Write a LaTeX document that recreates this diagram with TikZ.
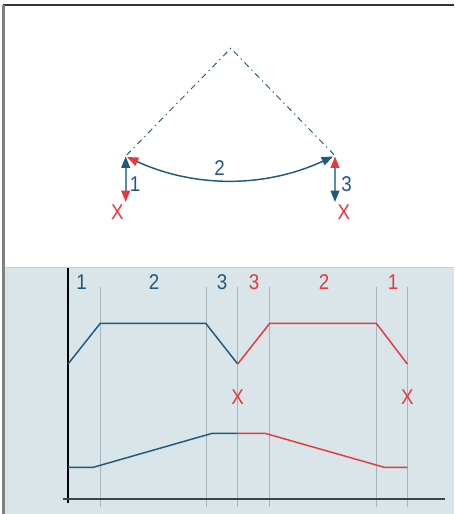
\documentclass[tikz,border=0pt]{standalone}
\usepackage{fontspec}
\setmainfont{Liberation Sans}[FakeStretch=0.88]
\usetikzlibrary{arrows.meta}
\definecolor{dblue}{HTML}{1F5A7E}
\definecolor{mblue}{HTML}{5E8BA8}
\definecolor{dred}{HTML}{E8383F}
\definecolor{panel}{HTML}{D9E5E8}
\definecolor{grid}{HTML}{A8B4BC}
\definecolor{axisc}{HTML}{3D4547}
\tikzset{
  lbl/.style={font=\fontsize{16}{19}\selectfont, inner sep=0pt, anchor=center},
  bl/.style={lbl, text=dblue},
  rd/.style={lbl, text=dred},
  curve/.style={line width=1.1pt, line join=round},
  gridline/.style={grid, line width=0.9pt}
}
\begin{document}
\begin{tikzpicture}[x=0.75pt, y=-0.75pt]
\useasboundingbox (0,0) rectangle (454,514);
% frame
\fill[panel] (5,268) rectangle (454,514);
\draw[black!20, line width=0.6pt] (5,267.5) -- (454,267.5);
\draw[black!80, line width=1.3pt] (3,5) -- (454,5);
\draw[black!50, line width=1.6pt] (3.5,4.5) -- (3.5,514);
% top part
\coordinate (A) at (230.7,48.3);
\coordinate (L) at (126.7,155);
\coordinate (R) at (334.3,155);
\draw[dblue, line width=0.7pt, dash pattern=on 4.5 off 3 on 1 off 3] (L) -- (A) -- (R);
\coordinate (LT) at (125.7,156.5);
\coordinate (LB) at (125.7,202);
\coordinate (RT) at (335,156.5);
\coordinate (RB) at (335,202);
\draw[mblue, line width=1.3pt, {Triangle[length=8.5, width=6.5, color=dblue]}-{Triangle[length=8.5, width=6.5, color=dred]}] (LT) -- (LB);
\draw[mblue, line width=1.3pt, {Triangle[length=8.5, width=6.5, color=dred]}-{Triangle[length=8.5, width=6.5, color=dblue]}] (RT) -- (RB);
\coordinate (AL) at (127,157);
\coordinate (AR) at (333,156.5);
\draw[dblue, line width=1.1pt, {Triangle[length=8.5, width=6.5, color=dred]}-{Triangle[length=8.5, width=6.5, color=dblue]}] (AL) .. controls (195,188) and (265,188) .. (AR);
\node[bl] (n2t) at (219.5,168.5) {2};
\node[bl] (n1t) at (135,184.5) {1};
\node[bl] (n3t) at (346.5,184.5) {3};
\node[rd] (x1t) at (117.5,212) {X};
\node[rd] (x2t) at (344,212) {X};
% bottom chart
\foreach \gx in {100.3,206.3,237.7,269.7,376.3,407.3}
  \draw[gridline] (\gx,286.7) -- (\gx,506.7);
\draw[black, line width=1.1pt] (68,268) -- (68,503);
\draw[axisc, line width=1.6pt] (63,498.7) -- (445,498.7);
\node[bl] (b1) at (81.7,282) {1};
\node[bl] (b2) at (154,282) {2};
\node[bl] (b3) at (222,282) {3};
\node[rd] (r3) at (254,282) {3};
\node[rd] (r2) at (324,282) {2};
\node[rd] (r1) at (393,282) {1};
\draw[curve, dblue] (68,364) -- (100.3,323.3) -- (205.7,323.3) -- (237.7,364);
\draw[curve, dred] (237.7,364) -- (269.7,323.3) -- (376.3,323.3) -- (407.3,364);
\node[rd] (xa) at (237.7,396.7) {X};
\node[rd] (xb) at (407.3,396.7) {X};
\draw[curve, dblue] (68,467.3) -- (93.3,467.3) -- (212.3,433.3) -- (237.7,433.3);
\draw[curve, dred] (237.7,433.3) -- (265,433.3) -- (384.3,467.3) -- (407.3,467.3);
\end{tikzpicture}
\end{document}
